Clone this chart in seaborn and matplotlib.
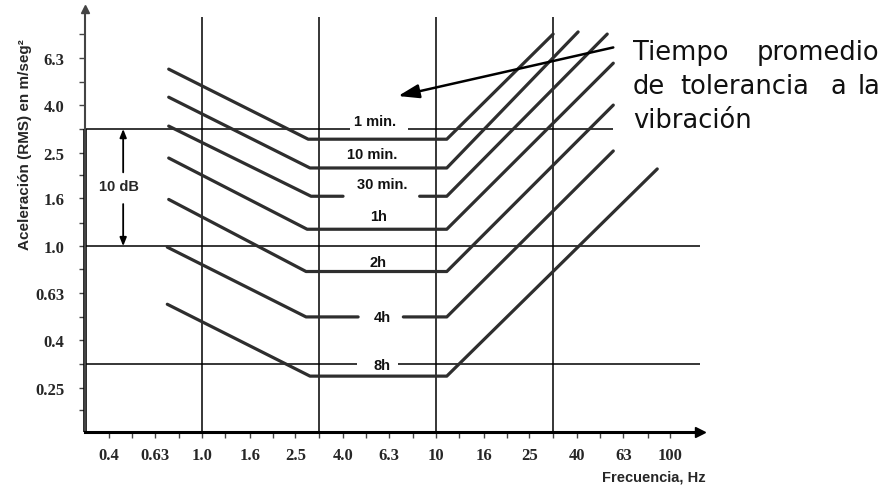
import matplotlib
matplotlib.use("Agg")
import matplotlib.pyplot as plt
from matplotlib.ticker import NullFormatter
import seaborn as sns
import pandas as pd

# tolerance curves (corner points, log-log)
curve_names = ["1 min.", "10 min.", "30 min.", "1h", "2h", "4h", "8h"]
start_f = [0.72, 0.72, 0.72, 0.72, 0.72, 0.71, 0.71]
start_a = [5.66, 4.30, 3.24, 2.37, 1.58, 0.99, 0.566]
knee1_f = [2.84, 2.89, 2.92, 2.81, 2.78, 2.78, 2.89]
flat_a = [2.85, 2.15, 1.63, 1.18, 0.78, 0.50, 0.28]
knee2_f = [11.1, 11.1, 11.1, 11.1, 11.1, 11.1, 11.1]
end_f = [31.6, 40.4, 53.8, 57.1, 57.1, 57.1, 88.0]
end_a = [7.98, 8.15, 7.98, 6.0, 3.98, 2.54, 2.13]
# where the curve names sit
label_f = [5.49, 5.32, 5.88, 5.65, 5.65, 5.88, 5.88]
label_a = [3.4, 2.46, 1.84, 1.34, 0.855, 0.50, 0.311]
# breaks in the flat part left for the label
flat_gaps = {"30 min.": (4.0, 8.5), "4h": (4.64, 7.24)}

freq_ticks = [0.4, 0.63, 1.0, 1.6, 2.5, 4.0, 6.3, 10, 16, 25, 40, 63, 100]
freq_labels = ["0.4", "0.63", "1.0", "1.6", "2.5", "4.0", "6.3",
               "10", "16", "25", "40", "63", "100"]
freq_minor = [0.5, 0.8, 1.25, 2.0, 3.15, 5.0, 8.0, 12.5, 20, 31.5, 50, 80]
acc_ticks = [0.25, 0.4, 0.63, 1.0, 1.6, 2.5, 4.0, 6.3]
acc_labels = ["0.25", "0.4", "0.63", "1.0", "1.6", "2.5", "4.0", "6.3"]
acc_minor = [0.2, 0.315, 0.5, 0.8, 1.25, 2.0, 3.15, 5.0, 8.0]

# reference grid lines
ref_acc = [3.15, 1.0, 0.315]
ref_acc_end = [57.1, 134, 134]
ref_gaps = {3.15: (4.29, 7.6), 0.315: (4.6, 6.9)}
ref_freq = [1.0, 3.15, 10, 31.5]
ref_freq_top = 9.4

rows = []
for i, name in enumerate(curve_names):
    if name in flat_gaps:
        lo, hi = flat_gaps[name]
        segs = [[(start_f[i], start_a[i]), (knee1_f[i], flat_a[i]), (lo, flat_a[i])],
                [(hi, flat_a[i]), (knee2_f[i], flat_a[i]), (end_f[i], end_a[i])]]
    else:
        segs = [[(start_f[i], start_a[i]), (knee1_f[i], flat_a[i]),
                 (knee2_f[i], flat_a[i]), (end_f[i], end_a[i])]]
    for j, seg in enumerate(segs):
        for f, a in seg:
            rows.append({"curve": name, "seg": f"{name}-{j}", "f": f, "a": a})
df = pd.DataFrame(rows)

sns.set_style("ticks")

fig = plt.figure(figsize=(8.89, 5.02), dpi=100)
ax = fig.add_axes([85 / 889, 1 - 433 / 502, 615 / 889, 423 / 502])
ax.set_xscale("log")
ax.set_yscale("log")
x0, x1 = 0.316, 134
y0, y1 = 0.162, 10.2
ax.set_xlim(x0, x1)
ax.set_ylim(y0, y1)

# reference lines
for a, xe in zip(ref_acc, ref_acc_end):
    if a in ref_gaps:
        lo, hi = ref_gaps[a]
        ax.hlines(a, x0, lo, color="black", lw=1.1)
        ax.hlines(a, hi, xe, color="black", lw=1.1)
    else:
        ax.hlines(a, x0, xe, color="black", lw=1.1)
ax.vlines(ref_freq, y0, ref_freq_top, color="black", lw=1.1)

sns.lineplot(data=df, x="f", y="a", units="seg", estimator=None, sort=False,
             color="#2e2e2e", lw=2.3, ax=ax)

for name, f, a in zip(curve_names, label_f, label_a):
    ax.text(f, a, name, ha="center", va="center", fontsize=10.5,
            fontweight="bold", family="Liberation Sans", color="#111111")

# 10 dB span
ax.annotate("", xy=(0.46, 3.15), xytext=(0.46, 2.06),
            arrowprops=dict(arrowstyle="-|>,head_length=0.5,head_width=0.2",
                            lw=1.3, color="black", shrinkA=0, shrinkB=0,
                            mutation_scale=10))
ax.annotate("", xy=(0.46, 1.0), xytext=(0.46, 1.51),
            arrowprops=dict(arrowstyle="-|>,head_length=0.5,head_width=0.2",
                            lw=1.3, color="black", shrinkA=0, shrinkB=0,
                            mutation_scale=10))
ax.text(0.44, 1.8, "10 dB", ha="center", va="center", fontsize=10.5,
        fontweight="bold", family="Liberation Sans")

# pointer to the curves
ax.annotate("", xy=(6.88, 4.35), xytext=(57.1, 7.0),
            arrowprops=dict(arrowstyle="-|>,head_length=0.9,head_width=0.3",
                            lw=1.8, color="black", shrinkA=0, shrinkB=0,
                            mutation_scale=14))

# axes look
sns.despine(ax=ax)
ax.spines["left"].set_linewidth(1.5)
ax.spines["left"].set_color("#444444")
ax.spines["bottom"].set_linewidth(2.2)
ax.spines["bottom"].set_color("black")
ax.vlines(x0, y0, 3.15, color="black", lw=2.6, clip_on=False)
ax.plot(0, 1, marker="^", color="#444444", ms=6, transform=ax.transAxes, clip_on=False)
ax.plot(1, 0, marker=">", color="black", ms=7, transform=ax.transAxes, clip_on=False)

ax.set_xticks(freq_ticks)
ax.set_xticklabels(freq_labels)
ax.set_xticks(freq_minor, minor=True)
ax.set_yticks(acc_ticks)
ax.set_yticklabels(acc_labels)
ax.set_yticks(acc_minor, minor=True)
ax.xaxis.set_minor_formatter(NullFormatter())
ax.yaxis.set_minor_formatter(NullFormatter())
ax.tick_params(which="both", direction="out", length=4, width=1, color="#444444")
ax.tick_params(axis="y", which="both", pad=11)
ax.tick_params(axis="x", which="both", pad=7)
for lab in ax.get_xticklabels() + ax.get_yticklabels():
    lab.set_family("Liberation Serif")
    lab.set_fontweight("bold")
    lab.set_fontsize(12)

ax.set_xlabel("Frecuencia, Hz", fontsize=10.5, fontweight="bold", family="Liberation Sans")
ax.xaxis.set_label_coords(0.925, -0.0875)
ax.set_ylabel("Aceleración (RMS) en m/seg²", fontsize=11, fontweight="bold",
              family="Liberation Sans")
ax.yaxis.set_label_coords(-0.086, 0.681)

# side note, justified by hand
note_words = [("Tiempo", 633, 60), ("promedio", 757, 60),
              ("de", 633, 94), ("tolerancia", 680, 94), ("a", 830, 94), ("la", 858, 94),
              ("vibración", 633, 128)]
for word, px, py in note_words:
    fig.text(px / 889, 1 - py / 502, word, ha="left", va="baseline",
             fontsize=18.5, family="DejaVu Sans", color="#111111")

fig.savefig("out.png", dpi=100)
